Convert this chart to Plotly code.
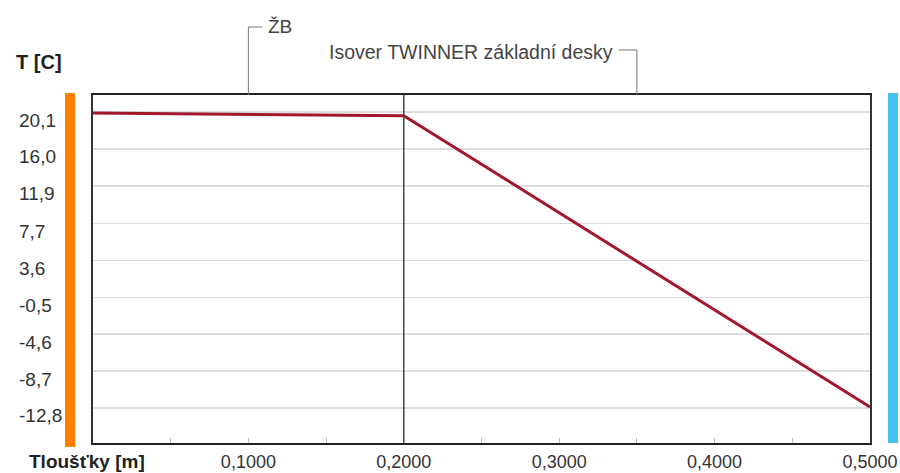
import plotly.graph_objects as go

# Data
thickness = [0.0, 0.2, 0.5]            # m
temperature = [20.0, 19.7, -12.7]      # °C
layer_names = ["ŽB", "Isover TWINNER základní desky"]
layer_bounds = [0.0, 0.2, 0.5]
y_ticks = [20.1, 16.0, 11.9, 7.7, 3.6, -0.5, -4.6, -8.7, -12.8]
y_labels = ["20,1", "16,0", "11,9", "7,7", "3,6", "-0,5", "-4,6", "-8,7", "-12,8"]
x_ticks = [0.1, 0.2, 0.3, 0.4, 0.5]
x_labels = ["0,1000", "0,2000", "0,3000", "0,4000", "0,5000"]

W, H = 900, 473
L, R, T, B = 93, 30, 95, 30
pw, ph = W - L - R, H - T - B

def px_x(px):
    return (px - L) / pw

def px_y(py):
    return (H - B - py) / ph

FONT = "Liberation Sans, Arial, sans-serif"

fig = go.Figure()
fig.add_trace(go.Scatter(
    x=thickness, y=temperature, mode="lines",
    line=dict(color="#a3172b", width=3), showlegend=False, hoverinfo="skip"))

shapes = []
# layer boundary (internal)
for b in layer_bounds[1:-1]:
    shapes.append(dict(type="line", xref="x", yref="paper", x0=b, x1=b, y0=0, y1=1,
                       line=dict(color="#444444", width=1.5)))
# orange (interior) and blue (exterior) bars
shapes.append(dict(type="rect", xref="paper", yref="paper", x0=px_x(65), x1=px_x(75),
                   y0=px_y(447), y1=px_y(93), fillcolor="#ff8000", line=dict(width=0)))
shapes.append(dict(type="rect", xref="paper", yref="paper", x0=px_x(888), x1=px_x(898),
                   y0=px_y(443), y1=px_y(93), fillcolor="#45c0f5", line=dict(width=0)))

annotations = []
# layer brackets
bracket_y = [px_y(27), px_y(50)]
for i, name in enumerate(layer_names):
    mid = (layer_bounds[i] + layer_bounds[i + 1]) / 2
    yb = bracket_y[i]
    shapes.append(dict(type="line", xref="x", yref="paper", x0=mid, x1=mid, y0=1, y1=yb,
                       line=dict(color="#777777", width=1)))
    if i == 0:
        shapes.append(dict(type="line", xref="x", yref="paper", x0=mid, x1=mid + 14 / pw * 0.5,
                           y0=yb, y1=yb, line=dict(color="#777777", width=1)))
        annotations.append(dict(x=mid, y=yb, xref="x", yref="paper", text=name,
                                xanchor="left", yanchor="middle", xshift=18, showarrow=False,
                                font=dict(family=FONT, size=19, color="#444444")))
    else:
        shapes.append(dict(type="line", xref="x", yref="paper", x0=mid, x1=mid - 18 / pw * 0.5,
                           y0=yb, y1=yb, line=dict(color="#777777", width=1)))
        annotations.append(dict(x=mid, y=yb, xref="x", yref="paper", text=name,
                                xanchor="right", yanchor="middle", xshift=-22, yshift=-2,
                                showarrow=False,
                                font=dict(family=FONT, size=19.5, color="#444444")))

# y tick labels (left aligned)
for v, t in zip(y_ticks, y_labels):
    annotations.append(dict(x=px_x(17), y=v, xref="paper", yref="y", text=t,
                            xanchor="left", yanchor="middle", yshift=-8, showarrow=False,
                            font=dict(family=FONT, size=19, color="#333333")))

annotations.append(dict(x=px_x(14), y=px_y(62), xref="paper", yref="paper", text="<b>T [C]</b>",
                        xanchor="left", yanchor="middle", showarrow=False,
                        font=dict(family=FONT, size=20, color="#222222")))
annotations.append(dict(x=px_x(27), y=px_y(462), xref="paper", yref="paper",
                        text="<b>Tloušťky [m]</b>", xanchor="left", yanchor="middle",
                        showarrow=False, font=dict(family=FONT, size=19, color="#222222")))

fig.update_layout(
    width=W, height=H,
    margin=dict(l=L, r=R, t=T, b=B),
    paper_bgcolor="white", plot_bgcolor="white",
    shapes=shapes, annotations=annotations,
    font=dict(family=FONT, size=19, color="#333333"),
)
fig.update_xaxes(
    range=[0, 0.5], tickvals=x_ticks, ticktext=x_labels, automargin=False,
    ticks="inside", ticklen=5, tickcolor="#bbbbbb", tickwidth=1,
    minor=dict(dtick=0.05, tick0=0, ticks="inside", ticklen=5, tickcolor="#bbbbbb", showgrid=False),
    showgrid=False, zeroline=False, ticklabelstandoff=1,
    showline=True, linecolor="#222222", linewidth=2, mirror=True,
    tickfont=dict(family=FONT, size=18, color="#333333"),
)
fig.update_yaxes(
    range=[-16.7, 22.0], tickvals=y_ticks, showticklabels=False, automargin=False,
    showgrid=True, gridcolor="#dddddd", gridwidth=1.5, zeroline=False,
    showline=True, linecolor="#333333", linewidth=2, mirror=True,
)

fig.write_html("out.html", config={"displayModeBar": False, "staticPlot": True})

# remove default page margin so the figure sits at the window's top-left corner
with open("out.html", "r", encoding="utf-8") as f:
    html = f.read()
html = html.replace("<head>", "<head><style>html,body{margin:0;padding:0;overflow:hidden;}</style>", 1)
with open("out.html", "w", encoding="utf-8") as f:
    f.write(html)
